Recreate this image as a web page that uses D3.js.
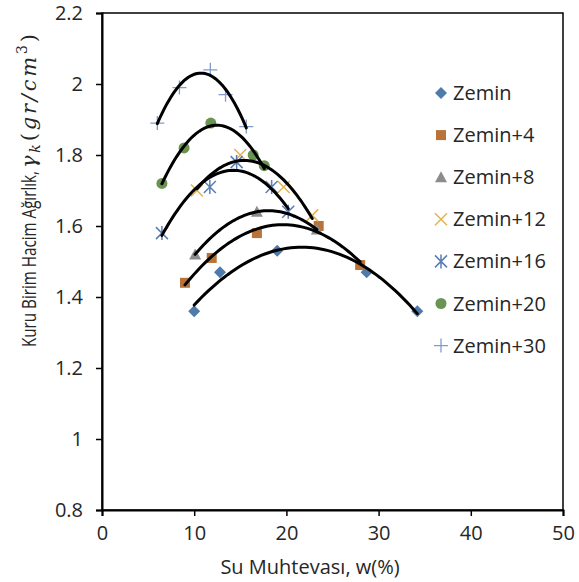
<!DOCTYPE html>
<html>
<head>
<meta charset="utf-8">
<script src="https://cdn.jsdelivr.net/npm/d3@7"></script>
<style>
  body { margin: 0; background: #fff; }
  text { font-family: "Open Sans", sans-serif; fill: #262626; }
</style>
</head>
<body>
<script>
// series names as shown in the legend
const seriesNames = ["Zemin", "Zemin+4", "Zemin+8", "Zemin+12", "Zemin+16", "Zemin+20", "Zemin+30"];

// water content w(%) per series
const wZemin   = [10.0, 12.8, 19.0, 28.7, 34.2];
const wZemin4  = [9.0, 11.9, 16.8, 23.5, 28.0];
const wZemin8  = [10.1, 16.8, 23.3];
const wZemin12 = [10.3, 15.0, 19.7, 22.8];
const wZemin16 = [6.5, 11.7, 14.6, 18.4, 20.2];
const wZemin20 = [6.5, 8.9, 11.8, 16.4, 17.6];
const wZemin30 = [6.0, 8.4, 11.75, 13.4, 15.65];

// dry unit weight gr/cm3 per series
const gZemin   = [1.36, 1.47, 1.53, 1.47, 1.36];
const gZemin4  = [1.44, 1.51, 1.58, 1.60, 1.49];
const gZemin8  = [1.52, 1.64, 1.59];
const gZemin12 = [1.70, 1.80, 1.71, 1.63];
const gZemin16 = [1.58, 1.71, 1.78, 1.71, 1.64];
const gZemin20 = [1.72, 1.82, 1.89, 1.80, 1.77];
const gZemin30 = [1.89, 1.99, 2.04, 1.97, 1.88];

const xTicks = [0, 10, 20, 30, 40, 50];
const yTicks = [0.8, 1, 1.2, 1.4, 1.6, 1.8, 2, 2.2];

const wAll = [wZemin, wZemin4, wZemin8, wZemin12, wZemin16, wZemin20, wZemin30];
const gAll = [gZemin, gZemin4, gZemin8, gZemin12, gZemin16, gZemin20, gZemin30];

const colors = ["#4f7bab", "#b8733a", "#8c8c8c", "#e3b24f", "#5a7db5", "#6a9452", "#7f9ccc"];
const shapes = ["diamond", "square", "triangle", "x", "asterisk", "circle", "plus"];

const W = 579, H = 582;
const margin = { top: 13, right: 16, bottom: 72, left: 102 };
const width = W - margin.left - margin.right,
      height = H - margin.top - margin.bottom;

const svg = d3.select("body").append("svg")
    .attr("width", W)
    .attr("height", H);

const g = svg.append("g")
    .attr("transform", "translate(" + margin.left + "," + margin.top + ")");

const x = d3.scaleLinear().domain([0, 50]).range([0, width]);
const y = d3.scaleLinear().domain([0.8, 2.2]).range([height, 0]);

// frame
g.append("rect")
    .attr("width", width).attr("height", height)
    .attr("fill", "none").attr("stroke", "#000").attr("stroke-width", 1.5);

const xAxis = g.append("g")
    .attr("transform", "translate(0," + height + ")")
    .call(d3.axisBottom(x).tickValues(xTicks).tickSize(6).tickPadding(10).tickFormat(d3.format("d")));
const yAxis = g.append("g")
    .call(d3.axisLeft(y).tickValues(yTicks).tickSize(6).tickPadding(13).tickFormat(d => d3.format("")(d)));

[xAxis, yAxis].forEach(a => {
  a.select(".domain").attr("stroke", "#000").attr("stroke-width", 2);
  a.selectAll(".tick line").attr("stroke", "#000").attr("stroke-width", 1.5);
  a.selectAll(".tick text").attr("font-size", 20).attr("fill", "#262626")
    .style("font-family", "'Open Sans', sans-serif");
});

// marker drawing
function marker(sel, shape, color) {
  if (shape === "diamond") {
    sel.append("path").attr("d", "M0,-6L6,0L0,6L-6,0Z").attr("fill", color);
  } else if (shape === "square") {
    sel.append("rect").attr("x", -5).attr("y", -5).attr("width", 10).attr("height", 10).attr("fill", color);
  } else if (shape === "triangle") {
    sel.append("path").attr("d", "M0,-6L6,5L-6,5Z").attr("fill", color);
  } else if (shape === "circle") {
    sel.append("circle").attr("r", 5.5).attr("fill", color);
  } else if (shape === "x") {
    sel.append("path").attr("d", "M-6,-6L6,6M6,-6L-6,6").attr("stroke", color).attr("stroke-width", 1.5);
  } else if (shape === "asterisk") {
    sel.append("path").attr("d", "M-6,-6L6,6M6,-6L-6,6M0,-7L0,7").attr("stroke", color).attr("stroke-width", 1.5);
  } else if (shape === "plus") {
    sel.append("path").attr("d", "M-7,0L7,0M0,-7L0,7").attr("stroke", color).attr("stroke-width", 1.3);
  }
}

// points
wAll.forEach((ws, i) => {
  const pts = ws.map((w, j) => ({ w: w, g: gAll[i][j] }));
  g.append("g").selectAll("g")
    .data(pts).enter().append("g")
    .attr("transform", d => "translate(" + x(d.w) + "," + y(d.g) + ")")
    .each(function () { marker(d3.select(this), shapes[i], colors[i]); });
});

// 2nd order polynomial trendline (least squares, like the spreadsheet trendline)
function polyfit2(xs, ys) {
  let s = [0, 0, 0, 0, 0], t = [0, 0, 0];
  xs.forEach((xv, k) => {
    for (let p = 0; p < 5; p++) s[p] += Math.pow(xv, p);
    for (let p = 0; p < 3; p++) t[p] += ys[k] * Math.pow(xv, p);
  });
  const M = [[s[0], s[1], s[2], t[0]], [s[1], s[2], s[3], t[1]], [s[2], s[3], s[4], t[2]]];
  for (let c = 0; c < 3; c++) {
    for (let r = c + 1; r < 3; r++) {
      const f = M[r][c] / M[c][c];
      for (let k = c; k < 4; k++) M[r][k] -= f * M[c][k];
    }
  }
  const a = [0, 0, 0];
  for (let r = 2; r >= 0; r--) {
    let v = M[r][3];
    for (let k = r + 1; k < 3; k++) v -= M[r][k] * a[k];
    a[r] = v / M[r][r];
  }
  return a;
}

const line = d3.line().x(d => x(d[0])).y(d => y(d[1]));
wAll.forEach((ws, i) => {
  const c = polyfit2(ws, gAll[i]);
  const lo = d3.min(ws), hi = d3.max(ws);
  const curve = d3.range(0, 61).map(k => {
    const xv = lo + (hi - lo) * k / 60;
    return [xv, c[0] + c[1] * xv + c[2] * xv * xv];
  });
  g.append("path").datum(curve)
    .attr("d", line)
    .attr("fill", "none").attr("stroke", "#000").attr("stroke-width", 3)
    .attr("stroke-linecap", "round");
});

// legend
const legend = svg.append("g").attr("transform", "translate(441,93)");
seriesNames.forEach((name, i) => {
  const row = legend.append("g").attr("transform", "translate(0," + (i * 42.1) + ")");
  marker(row, shapes[i], colors[i]);
  row.append("text").attr("x", 12).attr("y", 7).attr("font-size", 20).text(name);
});

// x title
svg.append("text")
    .attr("x", 310).attr("y", 574)
    .attr("text-anchor", "middle").attr("font-size", 20)
    .text("Su Muhtevası, w(%)");

// y title: plain part
svg.append("text")
    .attr("font-size", 20)
    .attr("transform", "translate(36,347) rotate(-90)")
    .attr("textLength", 176).attr("lengthAdjust", "spacingAndGlyphs")
    .text("Kuru Birim Hacim Ağırlık,");

// y title: math part
const ym = svg.append("text")
    .attr("font-size", 21)
    .style("font-family", "'DejaVu Serif', serif")
    .attr("transform", "translate(36,168) rotate(-90)")
    .attr("textLength", 134).attr("lengthAdjust", "spacing");
ym.append("tspan").style("font-style", "italic").text("γ");
ym.append("tspan").style("font-style", "italic").attr("font-size", 14).attr("dy", 4).text("k");
ym.append("tspan").attr("dy", -4).text("(");
ym.append("tspan").style("font-style", "italic").text("gr/cm");
ym.append("tspan").attr("font-size", 14).attr("dy", -9).text("3");
ym.append("tspan").attr("dy", 9).text(")");
</script>
</body>
</html>
